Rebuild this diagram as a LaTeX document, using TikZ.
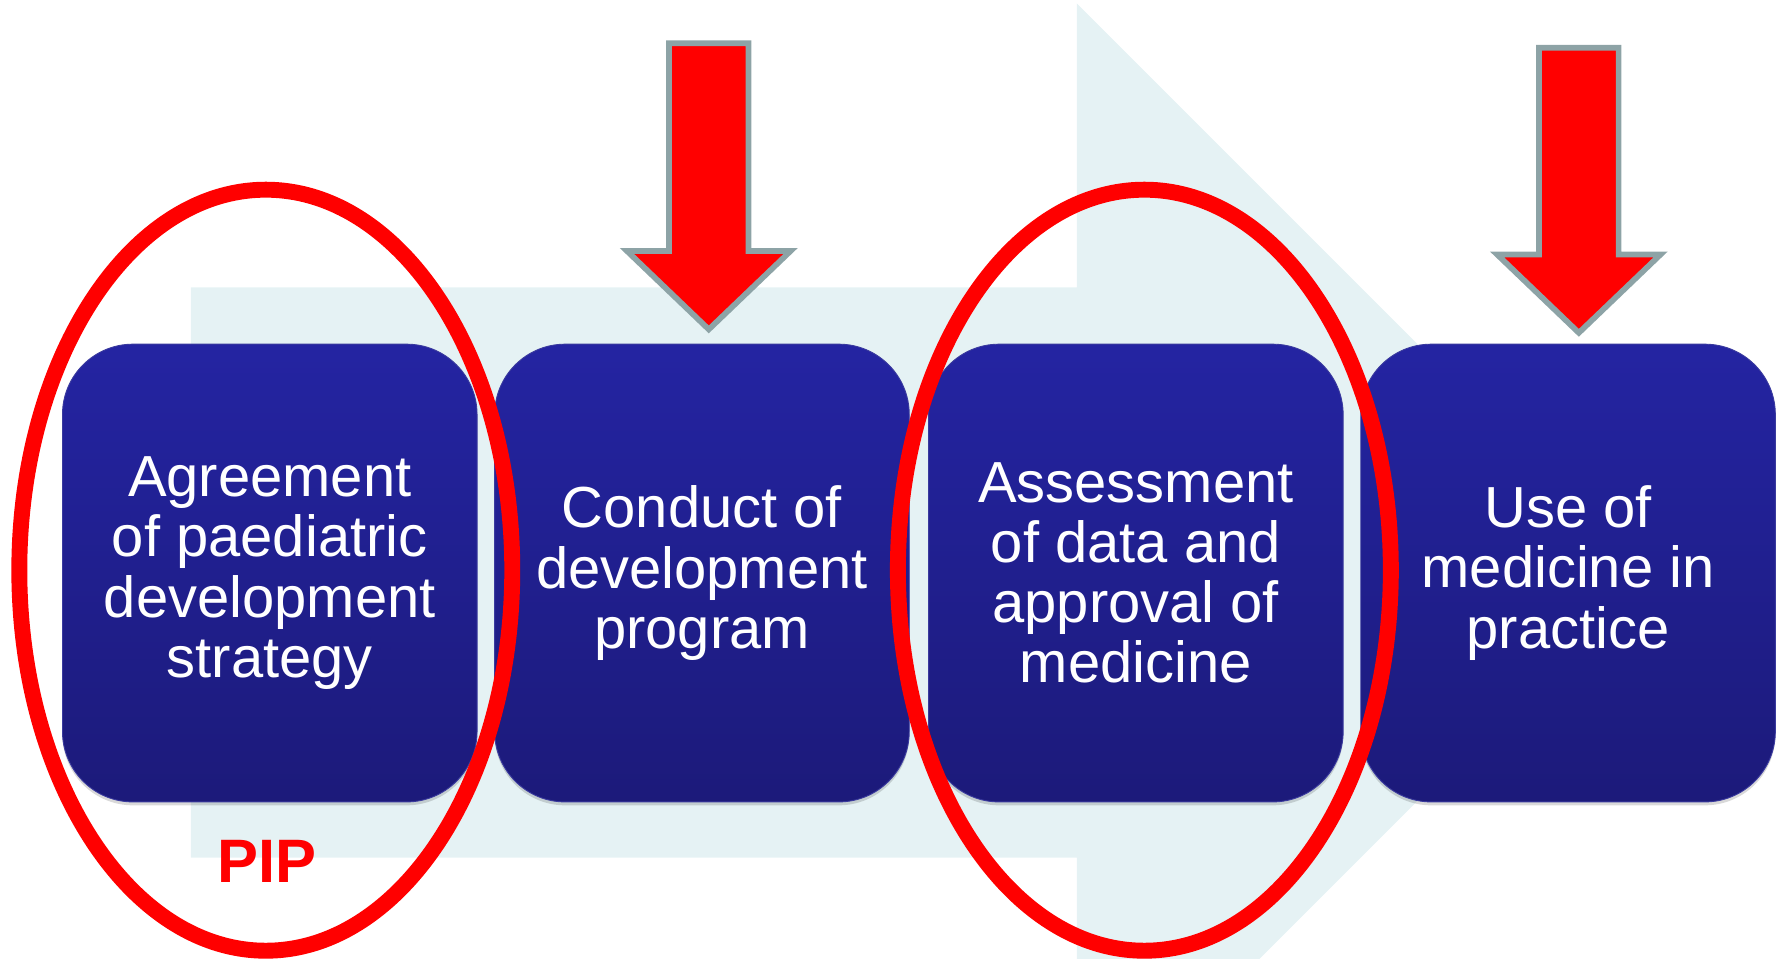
\documentclass[tikz,border=0pt]{standalone}
\usepackage{fontspec}
\setmainfont{Liberation Sans}
\usetikzlibrary{shapes.geometric,shadows}
\definecolor{bgblue}{HTML}{E5F2F4}
\definecolor{boxtop}{HTML}{2424A2}
\definecolor{boxbot}{HTML}{1C1A7A}
\definecolor{boxedge}{HTML}{3A3A9E}
\definecolor{pipred}{HTML}{FF0000}
\definecolor{arrowedge}{HTML}{8DA3A6}
\begin{document}
\begin{tikzpicture}[x=1pt,y=-1pt,
  stage/.style={rounded corners=62pt, minimum width=365pt, minimum height=403pt,
    inner sep=0pt, top color=boxtop, bottom color=boxbot, draw=boxedge, line width=0.8pt,
    text=white, align=center, font=\fontsize{51}{53}\selectfont,
    drop shadow={shadow xshift=0pt, shadow yshift=-3pt, opacity=0.15, fill=black}},
  ring/.style={ellipse, draw=pipred, line width=14pt, minimum width=434pt,
    minimum height=670pt, inner sep=0pt},
  downarrow/.style={fill=pipred, draw=arrowedge, line width=5pt, line join=miter}
]
\useasboundingbox (0,0) rectangle (1568,844);
\clip (0,0) rectangle (1568,844);
% background chevron
\fill[bgblue] (168,253) -- (948,253) -- (948,3) -- (1449,504) -- (948,1005)
  -- (948,755) -- (168,755) -- cycle;
% stages
\node[stage] (s1) at (237.5,504.5) {Agreement\\of paediatric\\development\\strategy};
\node[stage] (s2) at (618,504.5) {Conduct of\\development\\program};
\node[stage] (s3) at (1000,504.5) {Assessment\\of data and\\approval of\\medicine};
\node[stage] (s4) at (1380.5,504.5) {Use of\\medicine in\\practice};
% rings
\node[ring] (r1) at (234,502) {};
\node[ring] (r2) at (1007.5,502) {};
% red arrows
\coordinate (a1) at (624,290);
\draw[downarrow] (a1) -- ++(-72,-69) -- ++(37,0) -- ++(0,-183) -- ++(70,0)
  -- ++(0,183) -- ++(37,0) -- cycle;
\coordinate (a2) at (1390,293);
\draw[downarrow] (a2) -- ++(-72,-69) -- ++(37,0) -- ++(0,-182) -- ++(70,0)
  -- ++(0,182) -- ++(37,0) -- cycle;
% label
\node[text=pipred, font=\bfseries\fontsize{54}{54}\selectfont] (pip) at (235,758) {PIP};
\end{tikzpicture}
\end{document}
